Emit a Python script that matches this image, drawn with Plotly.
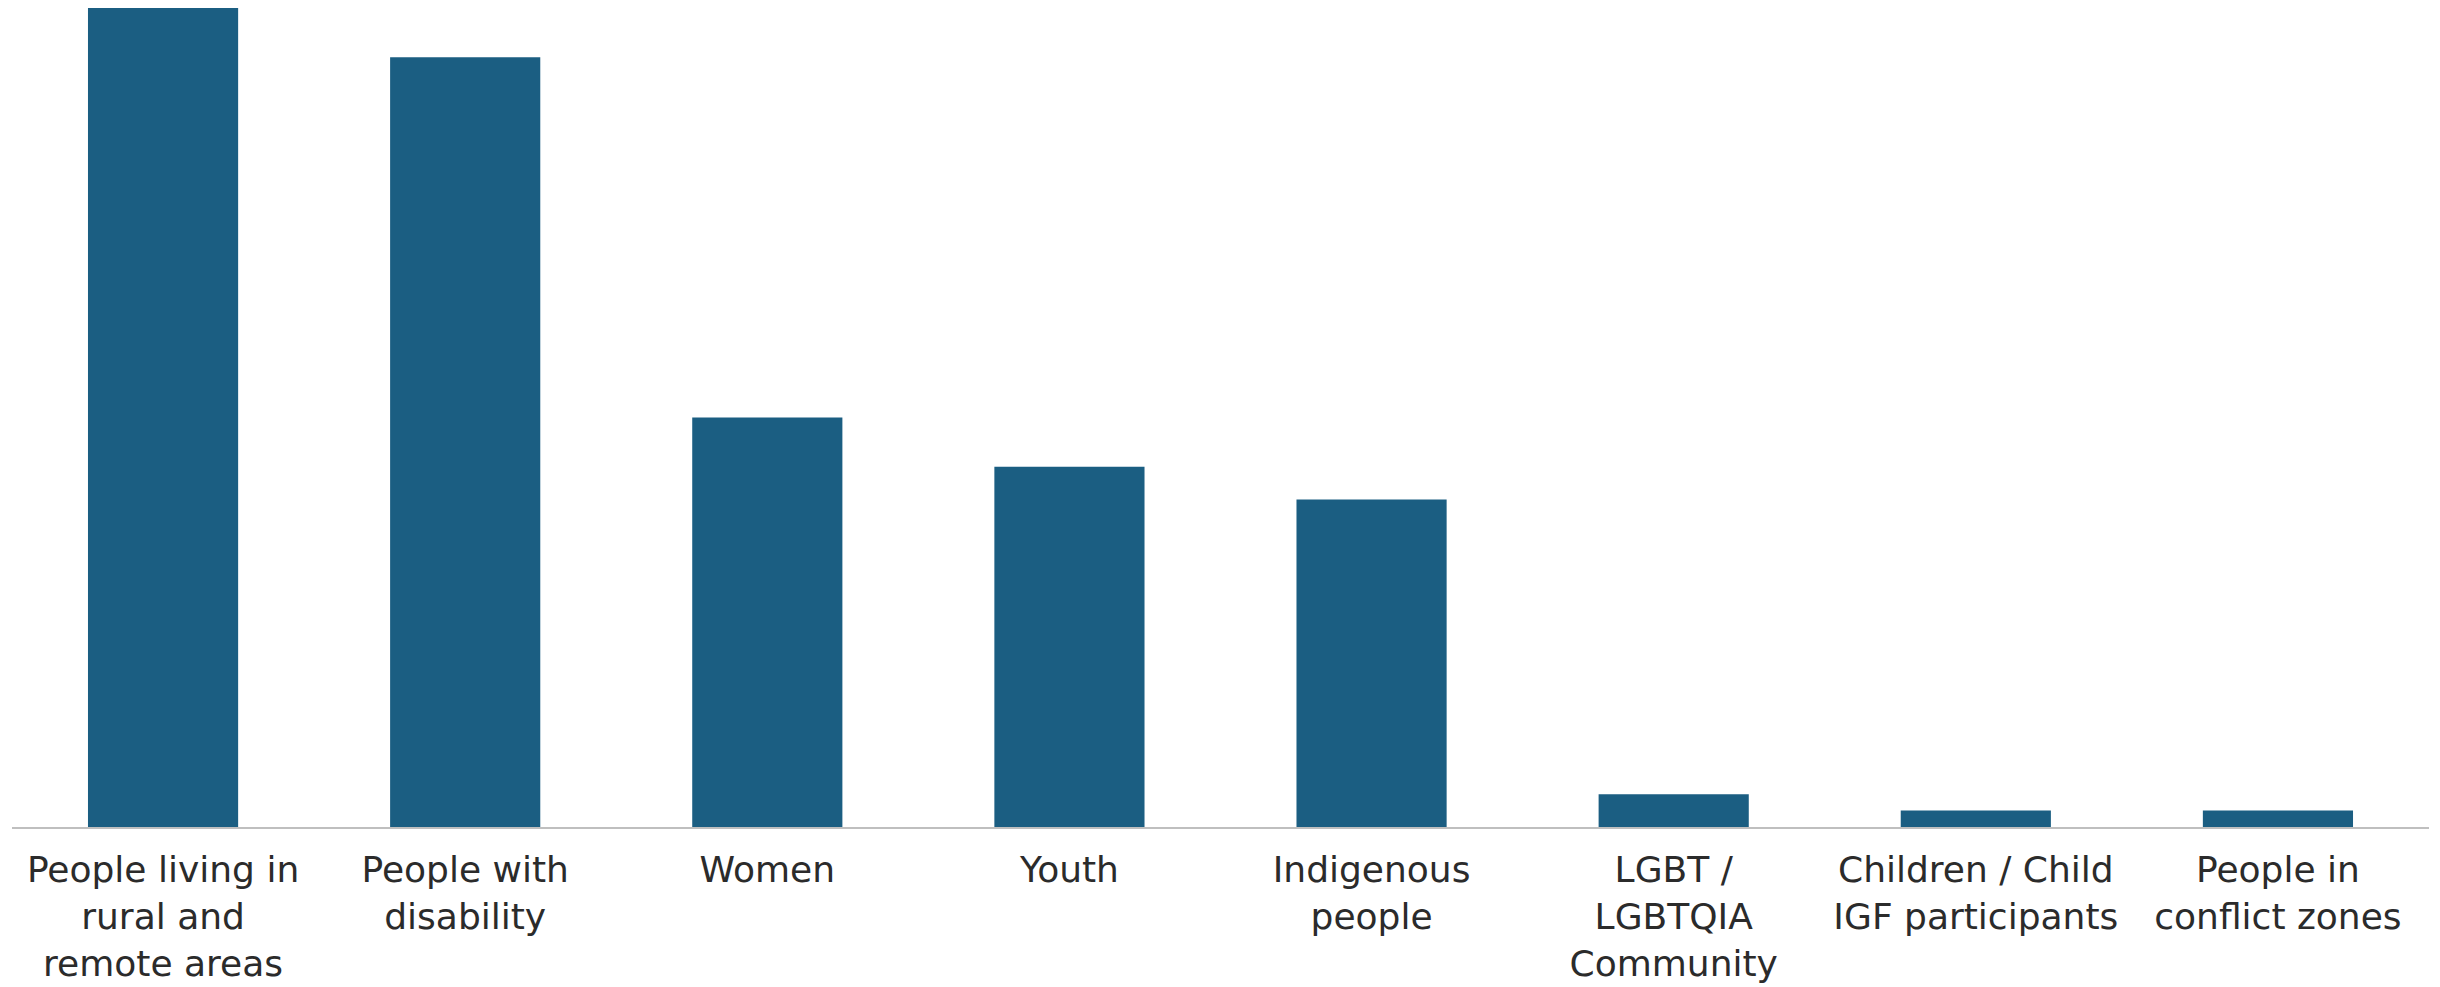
import plotly.graph_objects as go

categories = [
    "People living in<br>rural and<br>remote areas",
    "People with<br>disability",
    "Women",
    "Youth",
    "Indigenous<br>people",
    "LGBT /<br>LGBTQIA<br>Community",
    "Children / Child<br>IGF participants",
    "People in<br>conflict zones",
]
values = [50, 47, 25, 22, 20, 2, 1, 1]

bar_color = "#1b5e82"

fig = go.Figure(
    go.Bar(x=categories, y=values, marker=dict(color=bar_color, line=dict(width=0)))
)

# page body has an 8px default margin; size the figure to fit the window
fig.update_layout(
    width=2432,
    height=979,
    margin=dict(l=4, r=11, t=0, b=160, autoexpand=False),
    paper_bgcolor="white",
    plot_bgcolor="white",
    bargap=0.503,
    showlegend=False,
    font=dict(family="DejaVu Sans", size=36, color="#2b2b2b"),
)
fig.update_xaxes(
    showline=True,
    linecolor="#bfbfbf",
    linewidth=2,
    showgrid=False,
    ticks="",
    ticklabelstandoff=10,
    tickangle=0,
    automargin=False,
)
fig.update_yaxes(
    range=[0, 50],
    visible=False,
    showgrid=False,
    zeroline=False,
    automargin=False,
)

fig.write_html("out.html")
